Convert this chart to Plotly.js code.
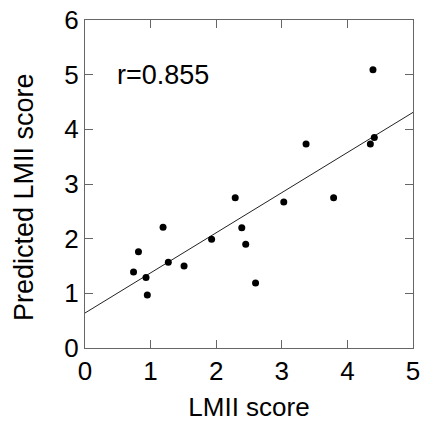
<!DOCTYPE html>
<html>
<head>
<meta charset="utf-8">
<script src="https://cdn.plot.ly/plotly-3.0.1.min.js"></script>
<style>html,body{margin:0;padding:0;background:#fff;}#chart{width:422px;height:424px;}</style>
</head>
<body>
<div id="chart"></div>
<script>
// Observed LMII score vs predicted LMII score
const lmiiScore = [4.39, 3.37, 4.35, 4.41, 2.29, 3.03, 3.79, 1.19, 2.39, 0.815, 1.93, 2.45, 1.27, 1.51, 0.74, 0.93, 0.95, 2.60];
const predictedScore = [5.09, 3.73, 3.73, 3.85, 2.75, 2.67, 2.75, 2.21, 2.20, 1.76, 1.99, 1.90, 1.57, 1.50, 1.39, 1.29, 0.97, 1.19];
// Regression line end points
const fitX = [0, 5];
const fitY = [0.64, 4.31];
const xTicks = [0, 1, 2, 3, 4, 5];
const yTicks = [0, 1, 2, 3, 4, 5, 6];
const annotationText = 'r=0.855';
const xTitle = 'LMII score';
const yTitle = 'Predicted LMII score';

const font = 'Liberation Sans, Arial, Helvetica, sans-serif';

const traces = [
  {x: fitX, y: fitY, mode: 'lines', line: {color: '#222', width: 1}, hoverinfo: 'skip', showlegend: false},
  {x: lmiiScore, y: predictedScore, mode: 'markers', marker: {color: '#000', size: 7}, showlegend: false}
];

const axisCommon = {
  showgrid: false, zeroline: false, showline: true, mirror: 'ticks',
  linecolor: '#666', linewidth: 1, ticks: 'inside', ticklen: 8, tickcolor: '#666',
  tickfont: {family: font, size: 26, color: '#000'}
};

const layout = {
  width: 422, height: 424,
  margin: {l: 85, r: 9, t: 20, b: 76},
  paper_bgcolor: '#fff', plot_bgcolor: '#fff',
  font: {family: font, color: '#000'},
  xaxis: Object.assign({}, axisCommon, {
    range: [0, 5], tickvals: xTicks, ticktext: xTicks.map(String),
    title: {text: xTitle, font: {family: font, size: 26}, standoff: 12}
  }),
  yaxis: Object.assign({}, axisCommon, {
    range: [0, 6], tickvals: yTicks, ticktext: yTicks.map(String)
  }),
  annotations: [{
    x: 0.45, y: 5.0, xref: 'x', yref: 'y', xanchor: 'left', yanchor: 'middle',
    text: annotationText, showarrow: false, font: {family: font, size: 27, color: '#000'}
  }, {
    x: -0.186, y: 0.46, xref: 'paper', yref: 'paper', xanchor: 'center', yanchor: 'middle',
    text: yTitle, textangle: -90, showarrow: false, font: {family: font, size: 27, color: '#000'}
  }]
};

Plotly.newPlot('chart', traces, layout, {displayModeBar: false, staticPlot: true});
</script>
</body>
</html>
